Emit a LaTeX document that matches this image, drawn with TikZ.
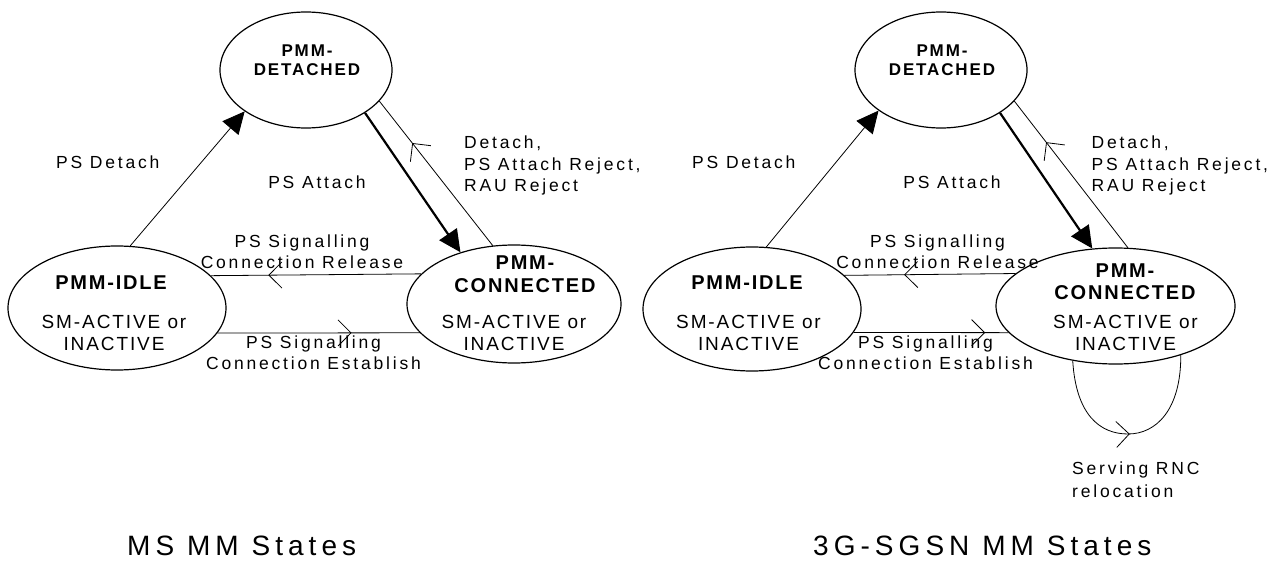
\documentclass[tikz,border=0pt]{standalone}
\usepackage{fontspec}
\setmainfont{Liberation Sans}[LetterSpace=16, BoldFeatures={LetterSpace=11}]
\newfontfamily\statefont{Liberation Sans}[LetterSpace=10, BoldFeatures={LetterSpace=9}]
\newfontfamily\titlefont{Liberation Sans}[LetterSpace=18]
\usetikzlibrary{shapes.geometric,arrows.meta,decorations.markings}
\tikzset{
  st/.style={draw, ellipse, line width=1.2pt, inner sep=0pt},
  lbl/.style={font=\fontsize{17.5}{22}\selectfont, inner sep=0pt, align=center, anchor=base},
  lbll/.style={lbl, align=left, anchor=base west},
  ttl/.style={lbl, font=\fontsize{17}{22}\selectfont\bfseries},
  sttl/.style={lbl, font=\statefont\fontsize{20}{23}\selectfont\bfseries},
  stxt/.style={lbl, font=\statefont\fontsize{19}{22}\selectfont},
  big/.style={font=\titlefont\fontsize{28}{30}\selectfont, inner sep=0pt, anchor=base west},
  cn/.style={line width=0.8pt},
  thick line/.style={line width=2.2pt},
  tri/.style={-{Triangle[length=22pt,width=21pt]}},
  mk/.style={postaction={decorate}, decoration={markings,
    mark=at position #1 with {\arrow{Straight Barb[length=13pt,width=26pt]}}}}
}
\begin{document}
\begin{tikzpicture}[x=1pt,y=-1pt]
\useasboundingbox[fill=white] (0,0) rectangle (1279,561);

% ---------- Left: MS MM States ----------
\node[st, minimum width=172pt, minimum height=116pt] (d1) at (306,70) {};
\node[st, minimum width=218pt, minimum height=124pt] (i1) at (117,308) {};
\node[st, minimum width=214pt, minimum height=118pt] (c1) at (514,304) {};

\node[ttl] (d1t) at (307,76) {PMM-\\[-3pt]DETACHED};
\node[sttl] (i1t) at (111,290) {PMM-IDLE};
\node[stxt] (i1s) at (114,350) {SM-ACTIVE or\\INACTIVE};
\node[sttl] (c1t) at (525,292) {PMM-\\CONNECTED};
\node[stxt] (c1s) at (514,350) {SM-ACTIVE or\\INACTIVE};

\draw[cn, tri] (i1.78) -- (d1.214.5);
\draw[thick line, tri] (d1.-36.7) -- (c1.136.5);
\draw[cn, mk=0.71] (c1.110.8) -- (d1.-23.4);
\draw[cn, mk=0.727] (c1.162.7) -- (i1.19.7);
\draw[cn, mk=0.663] (i1.-14.1) -- (c1.197.3);

\node[lbll] (l1a) at (56,169) {PS Detach};
\node[lbl] (l1b) at (317,189) {PS Attach};
\node[lbll] (l1c) at (464,192) {Detach,\\[-0.5pt]PS Attach Reject,\\[-0.5pt]RAU Reject};
\node[lbl] (l1d) at (302,269) {PS Signalling\\[-1pt]Connection Release};
\node[lbl] (l1e) at (313.5,369) {PS Signalling\\[-1pt]Connection Establish};
\node[big] (t1) at (127,555) {MS MM States};

% ---------- Right: 3G-SGSN MM States ----------
\node[st, minimum width=172pt, minimum height=116pt] (d2) at (941,70) {};
\node[st, minimum width=218pt, minimum height=124pt] (i2) at (752,309) {};
\node[st, minimum width=239pt, minimum height=116pt] (c2) at (1115.5,306) {};

\node[ttl] (d2t) at (942,76) {PMM-\\[-3pt]DETACHED};
\node[sttl] (i2t) at (747,290) {PMM-IDLE};
\node[stxt] (i2s) at (748.5,350) {SM-ACTIVE or\\INACTIVE};
\node[sttl] (c2t) at (1125,299) {PMM-\\[-1pt]CONNECTED};
\node[stxt] (c2s) at (1125.5,350) {SM-ACTIVE or\\INACTIVE};

\draw[cn, tri] (i2.77.3) -- (d2.213.7);
\draw[thick line, tri] (d2.-36.4) -- (c2.112.8);
\draw[cn, mk=0.72] (c2.78.2) -- (d2.-23.4);
\draw[cn, mk=0.651] (c2.162.9) -- (i2.20.4);
\draw[cn, mk=0.849] (i2.-13.4) -- (c2.194.3);

\coordinate (lp) at (1128,434);
\draw[cn, mk=0.5] (c2.232.6) .. controls (1076,415) and (1100,434) .. (lp)
  .. controls (1156,434) and (1181,410) .. (c2.-37.1);

\node[lbll] (l2a) at (692,169) {PS Detach};
\node[lbl] (l2b) at (952,189) {PS Attach};
\node[lbll] (l2c) at (1091.5,192) {Detach,\\[-0.5pt]PS Attach Reject,\\[-0.5pt]RAU Reject};
\node[lbl] (l2d) at (937.5,269) {PS Signalling\\[-1pt]Connection Release};
\node[lbl] (l2e) at (925.5,369) {PS Signalling\\[-1pt]Connection Establish};
\node[lbll] (l2f) at (1072,497) {Serving RNC\\[1pt]relocation};
\node[big] (t2) at (813,555) {3G-SGSN MM States};
\end{tikzpicture}
\end{document}
